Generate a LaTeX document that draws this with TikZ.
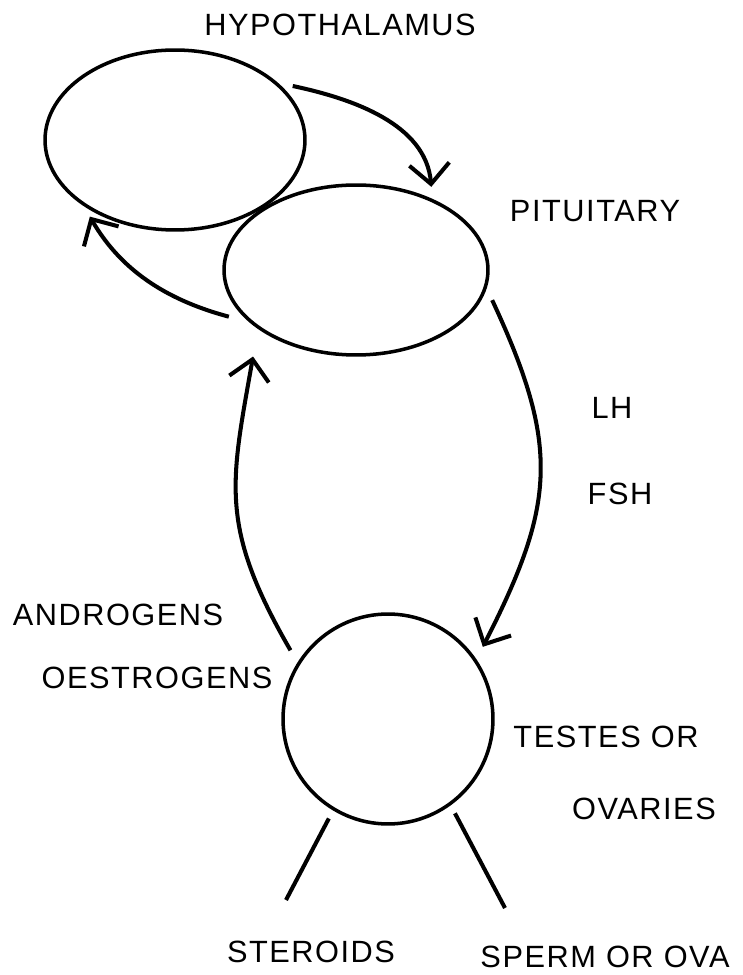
\documentclass[tikz,border=0pt]{standalone}
\usepackage{fontspec}
\setmainfont{Liberation Sans}[LetterSpace=5]
\usetikzlibrary{shapes.geometric, arrows.meta}

\begin{document}
\begin{tikzpicture}[x=0.02cm, y=0.02cm,
    organ/.style={draw, ellipse, line width=2pt, inner sep=0pt},
    tag/.style={font=\fontsize{17.5}{20}\selectfont, inner sep=0pt},
    hormone/.style={line width=2.3pt,
      -{Straight Barb[length=0.4cm, width=0.8cm, line width=2.3pt]}}]
  \useasboundingbox (0,0) rectangle (743,975);
  % glands
  \node[organ, minimum width=5.2cm, minimum height=3.6cm] (hypo) at (175,835) {};
  \node[organ, minimum width=5.28cm, minimum height=3.4cm] (pit) at (356,705) {};
  \node[organ, minimum width=4.2cm, minimum height=4.2cm] (gonad) at (388,256) {};
  % labels
  \node[tag] (hypolabel) at (340,950) {HYPOTHALAMUS};
  \node[tag] (pitlabel) at (595,764) {PITUITARY};
  \node[tag] (lh) at (612,567) {LH};
  \node[tag] (fsh) at (620,481) {FSH};
  \node[tag] (andro) at (118,360) {ANDROGENS};
  \node[tag] (oestro) at (157,297) {OESTROGENS};
  \node[tag] (testes) at (606,238) {TESTES OR};
  \node[tag] (ovaries) at (644,166) {OVARIES};
  \node[tag] (steroids) at (311,23) {STEROIDS};
  \node[tag] (sperm) at (605,18) {SPERM OR OVA};
  % free ends of the output lines
  \coordinate (steroidend) at (286,75);
  \coordinate (spermend) at (505,67);
  % hormone loops
  \draw[hormone, shorten <=0.3cm, shorten >=0.24cm]
    (hypo.29.5) to[out=-12, in=95] (pit.43);
  \draw[hormone, shorten <=0.42cm, shorten >=0.24cm]
    (pit.206.7) to[out=165, in=-60] (hypo.216.7);
  \draw[hormone, shorten <=0.28cm, shorten >=0.56cm]
    (gonad.148.7) to[out=120, in=-100, looseness=1.2] (pit.211.3);
  \draw[hormone, shorten <=0.26cm, shorten >=0.28cm]
    (pit.-8) to[out=-65, in=63, looseness=1.2] (gonad.34.4);
  % products
  \draw[line width=2.3pt, shorten <=0.18cm] (gonad.239) -- (steroidend);
  \draw[line width=2.3pt, shorten <=0.18cm] (gonad.-54) -- (spermend);
\end{tikzpicture}
\end{document}
